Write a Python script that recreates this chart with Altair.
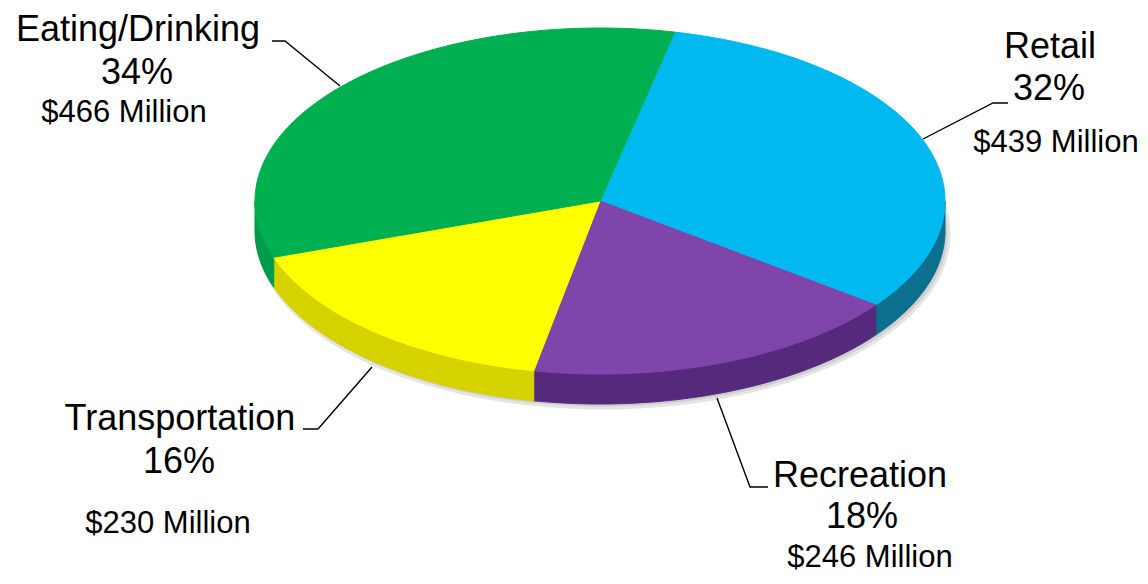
import altair as alt
import numpy as np
import pandas as pd

# ---- data ----
categories = ["Retail", "Recreation", "Transportation", "Eating/Drinking"]
values_musd = [439, 246, 230, 466]
percent_labels = ["32%", "18%", "16%", "34%"]
amount_labels = ["$439 Million", "$246 Million", "$230 Million", "$466 Million"]

# ---- styles ----
top_colors = ["#00B9EF", "#7F45AA", "#FFFF00", "#00B050"]
side_colors = ["#0C6F8D", "#55297C", "#D6D200", "#009C4C"]

# ---- layout (pixel space of the page) ----
CX, CY, RX, RY, DEPTH = 600, 201, 345, 173, 30
START_ANGLE = 77.5  # math convention, slices run clockwise

total = float(sum(values_musd))
spans = [v / total * 360.0 for v in values_musd]
starts = START_ANGLE - np.concatenate([[0.0], np.cumsum(spans)[:-1]])
ends = starts - np.array(spans)

top_rows, side_rows = [], []
for k, cat in enumerate(categories):
    a0, a1 = starts[k], ends[k]
    n = max(int(abs(a0 - a1)), 2)
    angs = np.radians(np.linspace(a0, a1, n + 1))
    top_rows.append(dict(cat=cat, i=0, x=CX, y=CY, col=top_colors[k]))
    for j, a in enumerate(angs):
        top_rows.append(dict(cat=cat, i=j + 1, x=CX + RX * np.cos(a),
                             y=CY - RY * np.sin(a), col=top_colors[k]))
    lo, hi = max(a1, -180.0), min(a0, 0.0)
    if hi > lo:
        m = max(int(hi - lo), 2)
        sa = np.radians(np.linspace(hi, lo, m + 1))
        idx = 0
        for a in sa:
            side_rows.append(dict(cat=cat, i=idx, x=CX + RX * np.cos(a),
                                  y=CY - RY * np.sin(a), col=side_colors[k]))
            idx += 1
        for a in sa[::-1]:
            side_rows.append(dict(cat=cat, i=idx, x=CX + RX * np.cos(a),
                                  y=CY - RY * np.sin(a) + DEPTH, col=side_colors[k]))
            idx += 1

# soft drop shadow under the pie
shadow_rows = []
for j, a in enumerate(np.radians(np.arange(0, 361, 2))):
    shadow_rows.append(dict(i=j, x=CX + 3 + (RX + 1) * np.cos(a),
                            y=CY + DEPTH + 3 - (RY + 1) * np.sin(a)))

top_df = pd.DataFrame(top_rows)
side_df = pd.DataFrame(side_rows)
shadow_df = pd.DataFrame(shadow_rows)

# label placement (layout)
label_pos = {
    "Eating/Drinking": dict(name=(138, 41), pct=(137, 84), amt=(124, 122),
                            leader=[(272, 41), (285, 41), (340, 86)]),
    "Retail": dict(name=(1050, 58), pct=(1049, 100), amt=(1056, 152),
                   leader=[(1008, 103), (993, 103), (923, 139)]),
    "Transportation": dict(name=(180, 430), pct=(179, 473), amt=(168, 533),
                           leader=[(303, 429), (318, 429), (372, 367)]),
    "Recreation": dict(name=(860, 487), pct=(862, 528), amt=(870, 567),
                       leader=[(768, 487), (750, 487), (717, 398)]),
}

text_rows, leader_rows = [], []
for k, cat in enumerate(categories):
    p = label_pos[cat]
    text_rows.append(dict(t=cat, x=p["name"][0], y=p["name"][1], fs=36))
    text_rows.append(dict(t=percent_labels[k], x=p["pct"][0], y=p["pct"][1], fs=36))
    text_rows.append(dict(t=amount_labels[k], x=p["amt"][0], y=p["amt"][1], fs=31))
    for j, (lx, ly) in enumerate(p["leader"]):
        leader_rows.append(dict(cat=cat, i=j, x=lx, y=ly))
text_df = pd.DataFrame(text_rows)
leader_df = pd.DataFrame(leader_rows)

X = alt.X("x:Q", scale=alt.Scale(domain=[8, 1140], nice=False, zero=False), axis=None)
Y = alt.Y("y:Q", scale=alt.Scale(domain=[576, 8], nice=False, zero=False), axis=None)

shadow = alt.Chart(shadow_df).mark_line(filled=True, interpolate="linear-closed", strokeWidth=3,
                                        fill="#CFCFCF", stroke="#E4E4E4").encode(
    x=X, y=Y, order="i:Q")

sides = alt.Chart(side_df).mark_line(filled=True, interpolate="linear-closed", strokeWidth=1).encode(
    x=X, y=Y, order="i:Q", detail="cat:N",
    color=alt.Color("col:N", scale=None), stroke=alt.Stroke("col:N", scale=None))

tops = alt.Chart(top_df).mark_line(filled=True, interpolate="linear-closed", strokeWidth=1).encode(
    x=X, y=Y, order="i:Q", detail="cat:N",
    color=alt.Color("col:N", scale=None), stroke=alt.Stroke("col:N", scale=None))

leaders = alt.Chart(leader_df).mark_line(color="black", strokeWidth=1.4).encode(
    x=X, y=Y, order="i:Q", detail="cat:N")

texts = alt.Chart(text_df).mark_text(align="center", baseline="alphabetic",
                                     font="Liberation Sans", color="black").encode(
    x=X, y=Y, text="t:N", size=alt.Size("fs:Q", scale=None))

chart = alt.layer(shadow, sides, tops, leaders, texts).properties(
    width=1132, height=568, padding=0, autosize="none"
).configure_view(strokeWidth=0)

chart.save("out.html", embed_options={"renderer": "svg", "actions": False})
